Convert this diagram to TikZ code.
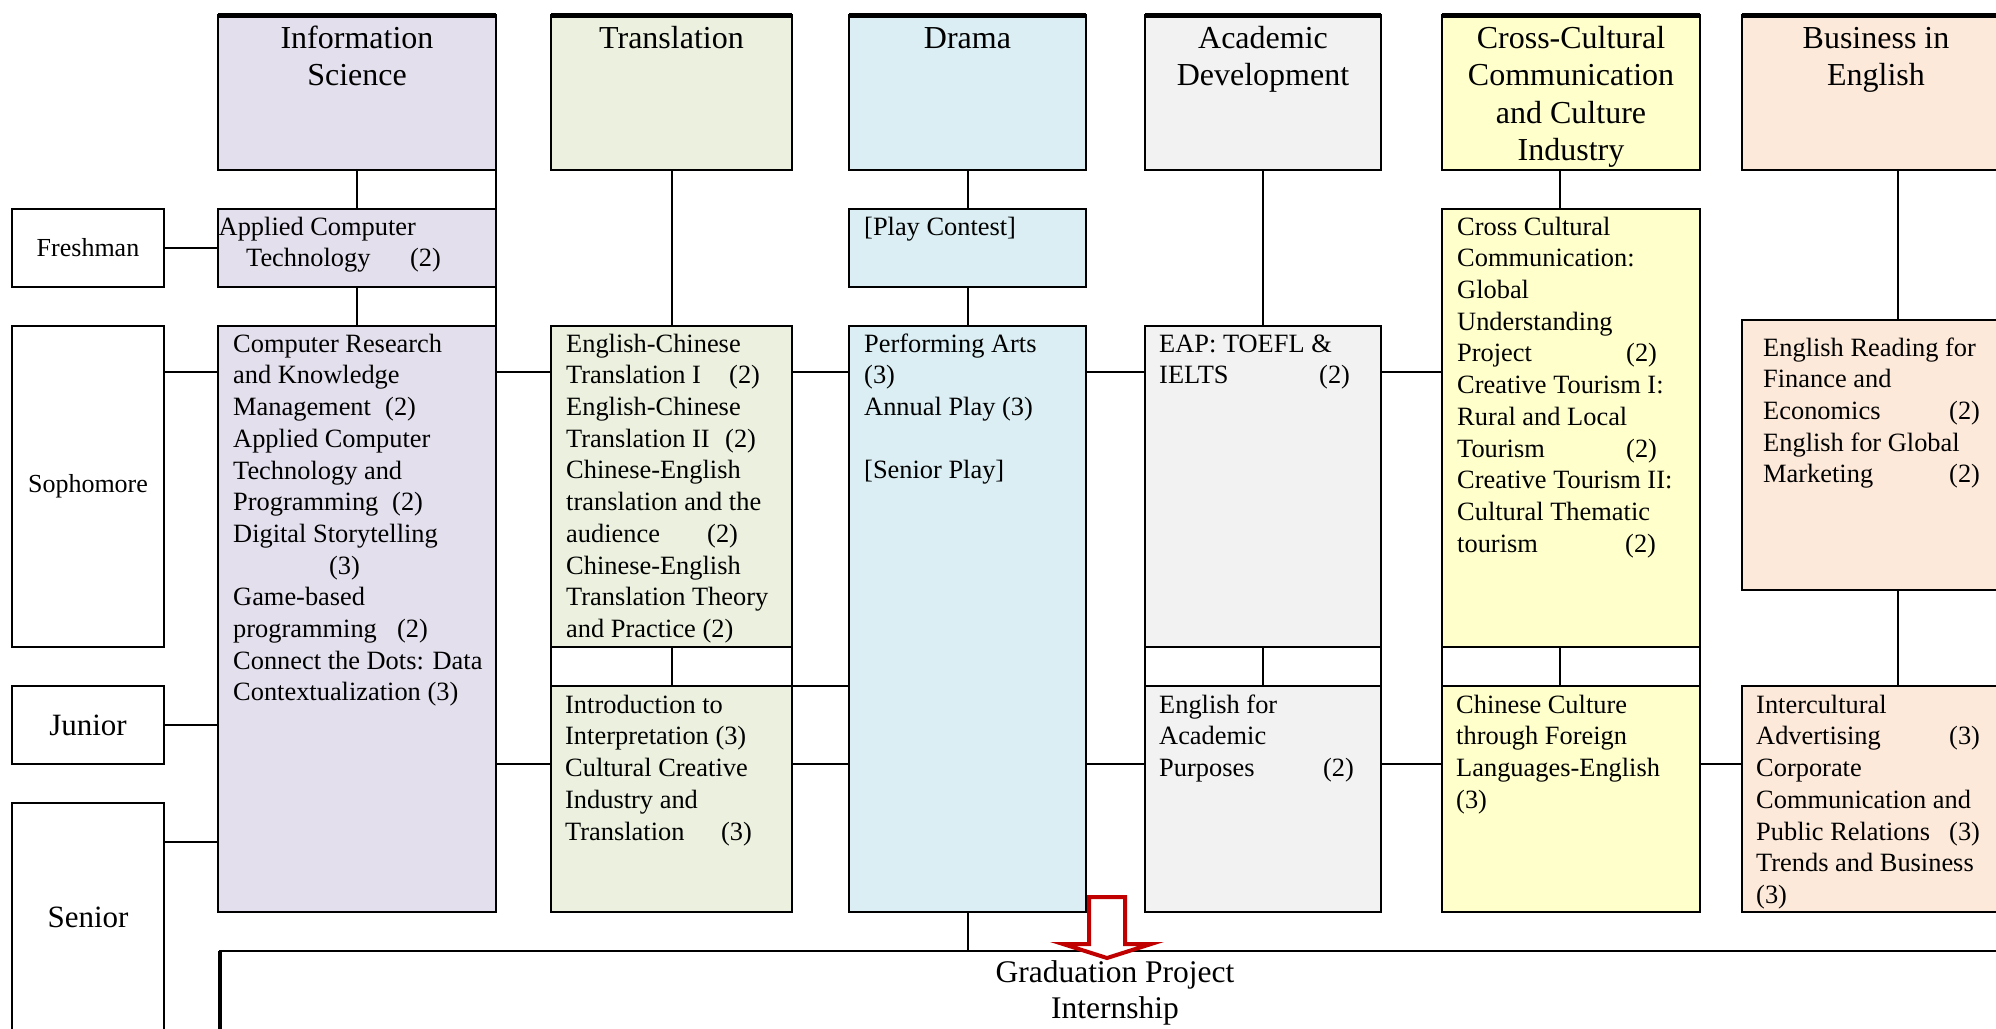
\documentclass[tikz,border=0pt]{standalone}
\usepackage{fontspec}
\setmainfont{Liberation Serif}
\definecolor{infoC}{HTML}{E4DFEC}
\definecolor{transC}{HTML}{EBF1DE}
\definecolor{dramaC}{HTML}{DAEEF3}
\definecolor{acadC}{HTML}{F2F2F2}
\definecolor{crossC}{HTML}{FFFFCC}
\definecolor{busC}{HTML}{FDE9D9}
\definecolor{arrowRed}{HTML}{C00000}
\newcommand\cw[2]{\makebox[#1pt][l]{#2}}
\newcommand\bodyfont{\fontsize{26.4}{31.7}\selectfont}
\newcommand\headfont{\fontsize{32}{37.5}\selectfont}
\newcommand\yearfont{\fontsize{26}{30}\selectfont}
\newcommand\yearbigfont{\fontsize{31}{36}\selectfont}
\begin{document}
\begin{tikzpicture}[x=1pt,y=-1pt,
  box/.style={draw, line width=2pt, inner sep=0pt, outer sep=0pt, anchor=north west},
  txt/.style={anchor=north west, inner sep=0pt, align=left, font=\bodyfont},
  hd/.style={anchor=north, inner sep=0pt, align=center, font=\headfont},
  conn/.style={line width=2pt},
  topbar/.style={line width=5pt},
  hollowarrow/.style={draw=arrowRed, fill=white, line width=4pt, line join=miter}]
\useasboundingbox (0,0) rectangle (1996,1028);
\clip (0,0) rectangle (1996,1028);

% helper coordinates
\coordinate (r1) at (0,372);
\coordinate (r2) at (0,764);
\coordinate (r3) at (0,842);
\coordinate (cx) at (1560,0);
\coordinate (bx) at (1898,0);

% year boxes
\node[box, minimum width=152pt, minimum height=78pt, font=\yearfont] (fresh) at (12,209) {Freshman};
\node[box, minimum width=152pt, minimum height=321pt, font=\yearfont] (soph) at (12,326) {Sophomore};
\node[box, minimum width=152pt, minimum height=78pt, font=\yearbigfont] (jun) at (12,686) {Junior};
\node[box, minimum width=152pt, minimum height=228pt, font=\yearbigfont] (sen) at (12,803) {Senior};

% header boxes
\node[box, fill=infoC, minimum width=278pt, minimum height=155pt] (iH) at (218,15) {};
\node[box, fill=transC, minimum width=241pt, minimum height=155pt] (tH) at (551,15) {};
\node[box, fill=dramaC, minimum width=237pt, minimum height=155pt] (dH) at (849,15) {};
\node[box, fill=acadC, minimum width=236pt, minimum height=155pt] (aH) at (1145,15) {};
\node[box, fill=crossC, minimum width=258pt, minimum height=155pt] (cH) at (1442,15) {};
\node[box, fill=busC, minimum width=268pt, minimum height=155pt] (bH) at (1742,15) {};
\foreach \h in {iH,tH,dH,aH,cH,bH} {
  \draw[topbar] (\h.north west) -- (\h.north east);
}

% course boxes
\node[box, fill=infoC, minimum width=278pt, minimum height=78pt] (act) at (218,209) {};
\node[box, fill=infoC, minimum width=278pt, minimum height=586pt] (iS) at (218,326) {};
\node[box, fill=transC, minimum width=241pt, minimum height=321pt] (tS) at (551,326) {};
\node[box, fill=white, minimum width=241pt, minimum height=39pt] (tG) at (551,647) {};
\node[box, fill=transC, minimum width=241pt, minimum height=226pt] (tJ) at (551,686) {};
\node[box, fill=dramaC, minimum width=237pt, minimum height=78pt] (pc) at (849,209) {};
\node[box, fill=dramaC, minimum width=237pt, minimum height=586pt] (dr) at (849,326) {};
\node[box, fill=acadC, minimum width=236pt, minimum height=321pt] (aS) at (1145,326) {};
\node[box, fill=white, minimum width=236pt, minimum height=39pt] (aG) at (1145,647) {};
\node[box, fill=acadC, minimum width=236pt, minimum height=226pt] (aJ) at (1145,686) {};
\node[box, fill=crossC, minimum width=258pt, minimum height=438pt] (cS) at (1442,209) {};
\node[box, fill=white, minimum width=258pt, minimum height=39pt] (cG) at (1442,647) {};
\node[box, fill=crossC, minimum width=258pt, minimum height=226pt] (cJ) at (1442,686) {};
\node[box, fill=busC, minimum width=268pt, minimum height=270pt] (bS) at (1742,320) {};
\node[box, fill=busC, minimum width=268pt, minimum height=226pt] (bJ) at (1742,686) {};

% graduation box
\node[box, minimum width=1830pt, minimum height=120pt] (grad) at (220,951) {};
\draw[line width=4pt] (grad.north west) -- (grad.south west);

% connectors
\draw[conn] (fresh.east) -- (act.west);
\draw[conn] (iH.south) -- (act.north);
\draw[conn] (act.south) -- (iS.north);
\draw[conn] (iH.south east) -- (iS.north east);
\draw[conn] (soph.east |- r1) -- (iS.west |- r1);
\draw[conn] (iS.east |- r1) -- (tS.west |- r1);
\draw[conn] (tS.east |- r1) -- (dr.west |- r1);
\draw[conn] (dr.east |- r1) -- (aS.west |- r1);
\draw[conn] (aS.east |- r1) -- (cS.west |- r1);
\draw[conn] (jun.east) -- (iS.west |- jun.east);
\draw[conn] (sen.east |- r3) -- (iS.west |- r3);
\draw[conn] (iS.east |- r2) -- (tJ.west |- r2);
\draw[conn] (tJ.east |- r2) -- (dr.west |- r2);
\draw[conn] (dr.east |- r2) -- (aJ.west |- r2);
\draw[conn] (aJ.east |- r2) -- (cJ.west |- r2);
\draw[conn] (cJ.east |- r2) -- (bJ.west |- r2);
\draw[conn] (tJ.north east) -- (dr.west |- tJ.north east);
\draw[conn] (tH.south) -- (tS.north);
\draw[conn] (tS.south) -- (tJ.north);
\draw[conn] (dH.south) -- (pc.north);
\draw[conn] (pc.south) -- (dr.north);
\draw[conn] (aH.south) -- (aS.north);
\draw[conn] (aS.south) -- (aJ.north);
\draw[conn] (cH.south -| cx) -- (cS.north -| cx);
\draw[conn] (cS.south -| cx) -- (cJ.north -| cx);
\draw[conn] (bH.south -| bx) -- (bS.north -| bx);
\draw[conn] (bS.south -| bx) -- (bJ.north -| bx);
\draw[conn] (dr.south) -- (grad.north -| dr.south);

% header texts
\node[hd] (iHt) at (357,22) {\strut Information\\Science};
\node[hd] (tHt) at (671.5,22) {\strut Translation};
\node[hd] (dHt) at (967.5,22) {\strut Drama};
\node[hd] (aHt) at (1263,22) {\strut Academic\\Development};
\node[hd] (cHt) at (1571,22) {\strut Cross-Cultural\\Communication\\and Culture\\Industry};
\node[hd] (bHt) at (1876,22) {\strut Business in\\English};

% course texts
\node[txt] (actT) at (218.5,212.8) {\strut Applied Computer\\\hspace*{27.5pt}\cw{164}{Technology}(2)};
\node[txt] (iST) at (233,329.8) {\strut Computer Research\\and Knowledge\\\cw{152}{Management}(2)\\Applied Computer\\Technology and\\\cw{159}{Programming}(2)\\Digital Storytelling\\\hspace*{96pt}(3)\\Game-based\\\cw{164}{programming}(2)\\Connect the Dots: Data\\Contextualization (3)};
\node[txt] (tST) at (566,329.8) {\strut English-Chinese\\\cw{163}{Translation I}(2)\\English-Chinese\\\cw{159}{Translation II}(2)\\Chinese-English\\translation and the\\\cw{141}{audience}(2)\\Chinese-English\\Translation Theory\\and Practice (2)};
\node[txt] (tJT) at (565,690.8) {\strut Introduction to\\Interpretation (3)\\Cultural Creative\\Industry and\\\cw{156}{Translation}(3)};
\node[txt] (pcT) at (864,212.8) {\strut {[}Play Contest{]}};
\node[txt] (drT) at (864,329.8) {\strut Performing Arts\\(3)\\Annual Play (3)\\\strut\\{[}Senior Play{]}};
\node[txt] (aST) at (1159,329.8) {\strut EAP: TOEFL \&\\\cw{160}{IELTS}(2)};
\node[txt] (aJT) at (1159,690.8) {\strut English for\\Academic\\\cw{164}{Purposes}(2)};
\node[txt] (cST) at (1457,212.8) {\strut Cross Cultural\\Communication:\\Global\\Understanding\\\cw{169}{Project}(2)\\Creative Tourism I:\\Rural and Local\\\cw{169}{Tourism}(2)\\Creative Tourism II:\\Cultural Thematic\\\cw{168}{tourism}(2)};
\node[txt] (cJT) at (1456,690.8) {\strut Chinese Culture\\through Foreign\\Languages-English\\(3)};
\node[txt] (bST) at (1763,333.8) {\strut English Reading for\\Finance and\\\cw{186}{Economics}(2)\\English for Global\\\cw{186}{Marketing}(2)};
\node[txt] (bJT) at (1756,690.8) {\strut Intercultural\\\cw{193}{Advertising}(3)\\Corporate\\Communication and\\\cw{193}{Public Relations}(3)\\Trends and Business\\(3)};

% graduation text
\node[hd, font=\fontsize{31.5}{36}\selectfont] (gradT) at (1115,956.8) {\strut Graduation Project\\Internship};

% hollow red arrow
\draw[hollowarrow] (1089,897) -- (1125,897) -- (1125,944) -- (1151,944) -- (1107,958) -- (1063,944) -- (1089,944) -- cycle;
\end{tikzpicture}
\end{document}
